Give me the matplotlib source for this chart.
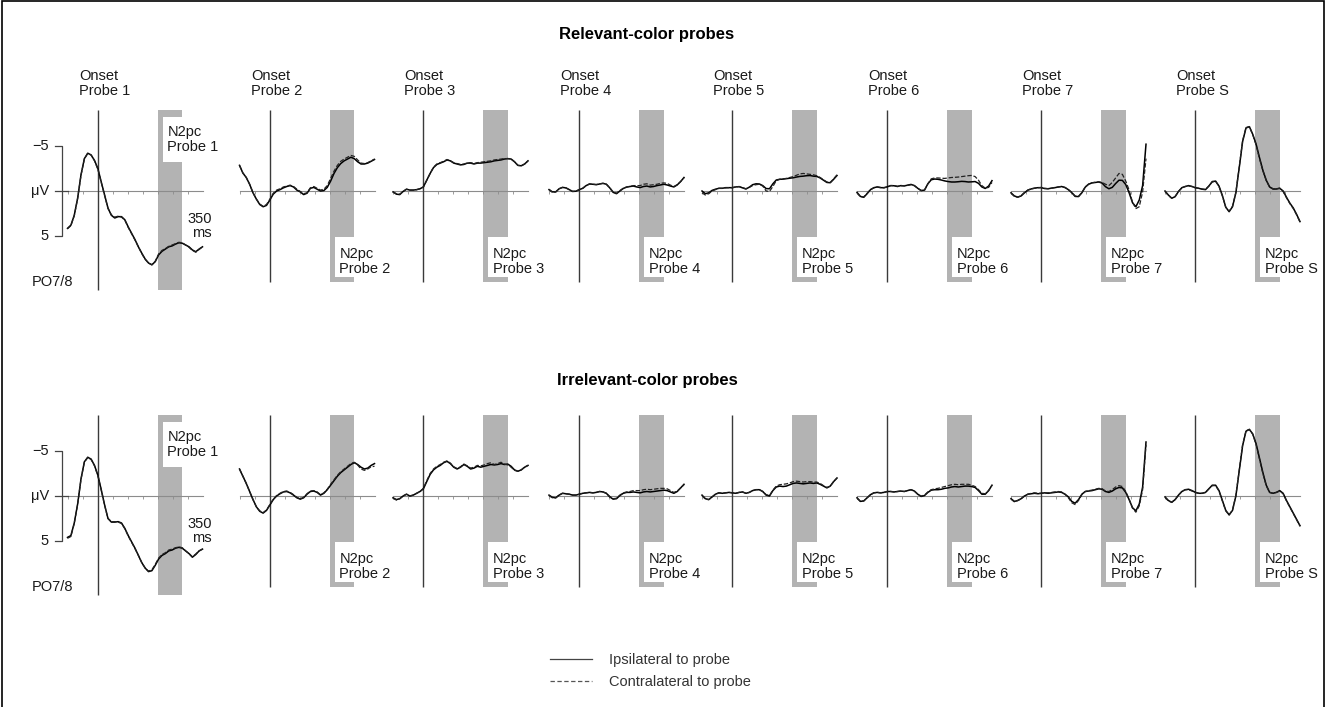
import numpy as np
import matplotlib.pyplot as plt
from matplotlib.patches import Rectangle
from matplotlib.lines import Line2D

plt.rcParams['font.family'] = ['Liberation Sans', 'DejaVu Sans']
plt.rcParams['font.size'] = 10.5

# time grid of the digitised waveforms (ms, 11.25 ms steps)
times = np.linspace(-100, 350, 41)
probes = ['1', '2', '3', '4', '5', '6', '7', 'S']
n2pc_window = [200, 283]
xticks_ms = [-100, -50, 0, 50, 100, 150, 200, 250, 300, 350]
yticks_uv = [-5, 0, 5]
ytick_labels = ['\u22125', 'μV', '5']
row_titles = ['Relevant-color probes', 'Irrelevant-color probes']
legend_labels = ['Ipsilateral to probe', 'Contralateral to probe']

# relevant-color probes, PO7/8 (μV, negative up)
ipsi_rel = [
    [4.15, 3.8, 2.7, 0.8, -1.8, -3.6, -4.2, -4.0, -3.4, -2.5, -1.0, 0.45, 1.9, 2.7, 3.0, 2.85, 2.85, 3.2, 4.0, 4.7, 5.4,
     6.2, 6.9, 7.55, 8.0, 8.2, 7.85, 7.1, 6.7, 6.45, 6.2, 6.1, 5.9, 5.75, 5.8, 6.0, 6.2, 6.55, 6.75, 6.45, 6.2],
    [-2.85, -2.0, -1.5, -0.75, 0.2, 0.9, 1.5, 1.75, 1.6, 1.0, 0.35, 0.0, -0.15, -0.35, -0.5, -0.6, -0.45, -0.1, 0.1, 0.4,
     0.25, -0.3, -0.4, -0.2, 0.0, -0.05, -0.4, -1.1, -1.95, -2.6, -3.05, -3.35, -3.55, -3.75, -3.6, -3.25, -3.0, -3.0,
     -3.1, -3.3, -3.5],
    [0.1, 0.35, 0.4, 0.05, -0.2, -0.1, -0.1, -0.15, -0.25, -0.45, -1.2, -1.95, -2.6, -2.95, -3.1, -3.25, -3.45, -3.35,
     -3.1, -3.0, -2.9, -2.95, -3.1, -3.1, -3.0, -3.1, -3.1, -3.15, -3.2, -3.25, -3.35, -3.4, -3.45, -3.55, -3.6, -3.55,
     -3.25, -2.85, -2.8, -3.0, -3.35],
    [-0.15, 0.1, 0.1, -0.25, -0.4, -0.35, -0.15, 0.05, 0.02, -0.15, -0.3, -0.6, -0.78, -0.75, -0.7, -0.78, -0.85, -0.75,
     -0.35, 0.15, 0.3, 0.0, -0.28, -0.43, -0.5, -0.55, -0.45, -0.38, -0.5, -0.55, -0.45, -0.5, -0.6, -0.67, -0.75, -0.67,
     -0.55, -0.45, -0.68, -1.05, -1.5],
    [0.0, 0.3, 0.2, -0.07, -0.2, -0.3, -0.3, -0.37, -0.37, -0.37, -0.45, -0.48, -0.35, -0.22, -0.42, -0.7, -0.8, -0.78,
     -0.6, -0.27, -0.25, -0.8, -1.22, -1.3, -1.32, -1.37, -1.42, -1.47, -1.55, -1.62, -1.65, -1.7, -1.72, -1.65, -1.62,
     -1.45, -1.2, -0.95, -0.92, -1.3, -1.72],
    [0.15, 0.6, 0.7, 0.3, -0.15, -0.37, -0.45, -0.37, -0.37, -0.47, -0.6, -0.58, -0.5, -0.6, -0.56, -0.65, -0.73, -0.6,
     -0.3, -0.05, -0.1, -0.8, -1.25, -1.33, -1.3, -1.22, -1.12, -1.05, -1.0, -1.0, -1.03, -1.07, -1.05, -1.0, -1.02,
     -1.05, -0.85, -0.45, -0.28, -0.55, -1.15],
    [0.2, 0.55, 0.68, 0.55, 0.2, -0.1, -0.23, -0.32, -0.37, -0.37, -0.27, -0.25, -0.32, -0.37, -0.44, -0.5, -0.38, -0.15,
     0.18, 0.6, 0.62, 0.2, -0.43, -0.75, -0.9, -0.95, -1.0, -0.88, -0.48, -0.25, -0.4, -0.83, -1.2, -1.18, -0.72, 0.2,
     1.3, 1.75, 1.0, -0.6, -5.2],
    [0.0, 0.45, 0.8, 0.63, 0.05, -0.37, -0.5, -0.6, -0.5, -0.37, -0.3, -0.2, -0.15, -0.55, -1.05, -1.1, -0.55, 0.5, 1.8,
     2.3, 1.75, 0.2, -2.6, -5.5, -7.0, -7.15, -6.3, -5.2, -3.7, -2.3, -1.2, -0.45, -0.22, -0.22, -0.3, 0.0, 0.7, 1.35,
     1.88, 2.6, 3.4],
]
contra_rel = [
    [4.2, 3.85, 2.75, 0.85, -1.75, -3.55, -4.2, -4.0, -3.35, -2.4, -0.95, 0.5, 1.95, 2.65, 2.9, 2.8, 2.9, 3.25, 4.05,
     4.75, 5.45, 6.2, 6.95, 7.6, 8.0, 8.2, 7.8, 7.0, 6.6, 6.4, 6.15, 6.0, 5.85, 5.7, 5.75, 6.0, 6.25, 6.6, 6.8, 6.5, 6.2],
    [-2.85, -2.0, -1.5, -0.75, 0.2, 0.9, 1.45, 1.7, 1.5, 0.9, 0.25, -0.1, -0.25, -0.45, -0.55, -0.65, -0.5, -0.2, 0.05,
     0.3, 0.2, -0.35, -0.5, -0.3, -0.1, -0.2, -0.6, -1.4, -2.2, -2.85, -3.3, -3.55, -3.75, -3.95, -3.85, -3.45, -3.1,
     -3.05, -3.15, -3.35, -3.55],
    [0.1, 0.3, 0.35, 0.05, -0.2, -0.1, -0.1, -0.15, -0.25, -0.45, -1.2, -1.95, -2.65, -3.0, -3.15, -3.3, -3.5, -3.35,
     -3.15, -3.05, -2.95, -3.0, -3.1, -3.15, -3.05, -3.15, -3.2, -3.25, -3.3, -3.35, -3.45, -3.5, -3.55, -3.6, -3.6,
     -3.55, -3.25, -2.85, -2.8, -3.0, -3.35],
    [-0.2, 0.15, 0.1, -0.25, -0.4, -0.35, -0.15, 0.05, 0.0, -0.15, -0.3, -0.6, -0.78, -0.75, -0.72, -0.8, -0.85, -0.75,
     -0.35, 0.1, 0.25, -0.05, -0.3, -0.45, -0.52, -0.6, -0.6, -0.6, -0.75, -0.8, -0.65, -0.7, -0.75, -0.85, -0.9, -0.85,
     -0.65, -0.5, -0.7, -1.05, -1.45],
    [0.2, 0.45, 0.3, 0.0, -0.15, -0.3, -0.3, -0.35, -0.37, -0.37, -0.45, -0.5, -0.38, -0.25, -0.4, -0.6, -0.7, -0.75,
     -0.55, 0.0, 0.05, -0.5, -1.15, -1.3, -1.35, -1.4, -1.5, -1.6, -1.75, -1.9, -1.95, -1.9, -1.85, -1.8, -1.7, -1.5,
     -1.25, -1.0, -0.95, -1.35, -1.8],
    [0.2, 0.65, 0.65, 0.25, -0.15, -0.35, -0.45, -0.4, -0.35, -0.45, -0.6, -0.6, -0.52, -0.58, -0.6, -0.62, -0.7, -0.6,
     -0.3, -0.05, -0.1, -0.8, -1.35, -1.45, -1.45, -1.42, -1.4, -1.45, -1.5, -1.52, -1.55, -1.6, -1.65, -1.7, -1.73,
     -1.6, -1.2, -0.6, -0.32, -0.4, -0.95],
    [0.25, 0.6, 0.7, 0.5, 0.15, -0.1, -0.25, -0.3, -0.35, -0.4, -0.3, -0.25, -0.3, -0.4, -0.45, -0.5, -0.4, -0.15, 0.15,
     0.55, 0.6, 0.15, -0.45, -0.78, -0.92, -0.97, -1.02, -0.95, -0.75, -0.6, -0.95, -1.45, -1.95, -1.85, -1.1, -0.1,
     1.25, 1.95, 1.75, 0.1, -3.6],
    [0.05, 0.5, 0.8, 0.6, 0.05, -0.35, -0.5, -0.55, -0.5, -0.35, -0.3, -0.22, -0.18, -0.55, -1.0, -1.08, -0.5, 0.55,
     1.8, 2.25, 1.7, 0.15, -2.7, -5.6, -7.05, -7.15, -6.25, -5.1, -3.6, -2.25, -1.15, -0.45, -0.25, -0.25, -0.32, 0.05,
     0.75, 1.4, 1.95, 2.65, 3.45],
]

# irrelevant-color probes, PO7/8
ipsi_irr = [
    [4.6, 4.4, 3.0, 0.9, -1.9, -3.8, -4.3, -4.1, -3.4, -2.3, -0.7, 1.0, 2.5, 2.9, 2.9, 2.85, 3.0, 3.6, 4.4, 5.1, 5.8,
     6.6, 7.4, 8.0, 8.4, 8.3, 7.7, 7.0, 6.6, 6.4, 6.1, 6.0, 5.8, 5.7, 5.8, 6.1, 6.4, 6.8, 6.5, 6.1, 5.9],
    [-3.0, -2.2, -1.4, -0.5, 0.4, 1.2, 1.7, 1.9, 1.6, 1.0, 0.4, 0.0, -0.25, -0.45, -0.5, -0.35, -0.1, 0.2, 0.35, 0.2,
     -0.2, -0.5, -0.55, -0.4, -0.1, -0.3, -0.7, -1.2, -1.7, -2.2, -2.6, -2.9, -3.2, -3.5, -3.7, -3.5, -3.2, -3.0, -3.1,
     -3.4, -3.6],
    [0.2, 0.4, 0.3, 0.0, -0.2, 0.0, -0.1, -0.3, -0.5, -0.8, -1.6, -2.4, -2.9, -3.2, -3.4, -3.7, -3.85, -3.6, -3.2, -3.0,
     -3.2, -3.5, -3.3, -3.0, -3.1, -3.3, -3.2, -3.3, -3.4, -3.5, -3.45, -3.5, -3.6, -3.5, -3.55, -3.3, -2.9, -2.75, -2.9,
     -3.2, -3.4],
    [-0.1, 0.15, 0.2, -0.1, -0.3, -0.25, -0.2, -0.1, -0.1, -0.2, -0.3, -0.35, -0.4, -0.35, -0.4, -0.5, -0.45, -0.3, 0.1,
     0.35, 0.3, -0.05, -0.3, -0.4, -0.4, -0.45, -0.4, -0.35, -0.45, -0.5, -0.45, -0.5, -0.55, -0.6, -0.65, -0.6, -0.45,
     -0.3, -0.5, -0.9, -1.3],
    [-0.1, 0.3, 0.4, 0.1, -0.2, -0.35, -0.3, -0.35, -0.4, -0.35, -0.3, -0.4, -0.45, -0.3, -0.4, -0.6, -0.7, -0.7, -0.5,
     -0.1, 0.0, -0.6, -1.0, -1.1, -1.05, -1.1, -1.25, -1.4, -1.45, -1.4, -1.35, -1.4, -1.45, -1.4, -1.45, -1.3, -1.1,
     -0.9, -1.1, -1.6, -2.0],
    [0.2, 0.6, 0.55, 0.2, -0.15, -0.35, -0.4, -0.35, -0.4, -0.5, -0.5, -0.45, -0.5, -0.55, -0.5, -0.6, -0.7, -0.55,
     -0.2, 0.05, -0.05, -0.4, -0.65, -0.7, -0.7, -0.75, -0.85, -0.9, -1.0, -1.05, -1.0, -1.05, -1.1, -1.1, -1.05, -0.95,
     -0.6, -0.2, -0.2, -0.6, -1.2],
    [0.3, 0.6, 0.5, 0.3, 0.0, -0.2, -0.25, -0.3, -0.25, -0.3, -0.35, -0.3, -0.35, -0.4, -0.45, -0.4, -0.2, 0.1, 0.6, 0.8,
     0.4, -0.2, -0.5, -0.55, -0.6, -0.7, -0.8, -0.75, -0.5, -0.4, -0.55, -0.8, -0.95, -0.9, -0.4, 0.4, 1.3, 1.65, 0.9,
     -1.0, -6.0],
    [0.1, 0.5, 0.7, 0.4, -0.1, -0.5, -0.7, -0.75, -0.6, -0.4, -0.3, -0.3, -0.4, -0.8, -1.2, -1.2, -0.6, 0.5, 1.6, 2.1,
     1.6, 0.0, -2.8, -5.6, -7.2, -7.4, -6.9, -5.8, -4.2, -2.6, -1.2, -0.4, -0.3, -0.4, -0.6, -0.3, 0.5, 1.2, 1.9, 2.6,
     3.3],
]
contra_irr = [
    [4.7, 4.5, 3.05, 0.95, -1.85, -3.75, -4.3, -4.05, -3.35, -2.25, -0.65, 1.05, 2.5, 2.85, 2.85, 2.9, 3.05, 3.65, 4.45,
     5.15, 5.85, 6.6, 7.4, 8.0, 8.35, 8.2, 7.6, 6.9, 6.5, 6.3, 6.0, 5.9, 5.75, 5.65, 5.75, 6.1, 6.4, 6.75, 6.45, 6.1, 5.9],
    [-3.0, -2.2, -1.4, -0.5, 0.4, 1.2, 1.65, 1.85, 1.55, 0.95, 0.35, -0.05, -0.3, -0.5, -0.55, -0.4, -0.15, 0.15, 0.3,
     0.15, -0.25, -0.55, -0.6, -0.45, -0.15, -0.35, -0.75, -1.3, -1.8, -2.3, -2.7, -3.0, -3.3, -3.6, -3.75, -3.45, -3.0,
     -2.85, -3.0, -3.25, -3.3],
    [0.25, 0.45, 0.3, 0.0, -0.2, 0.0, -0.1, -0.3, -0.5, -0.85, -1.7, -2.5, -3.0, -3.3, -3.5, -3.75, -3.9, -3.65, -3.25,
     -3.05, -3.25, -3.55, -3.35, -3.1, -3.2, -3.4, -3.35, -3.45, -3.6, -3.7, -3.5, -3.6, -3.75, -3.55, -3.45, -3.2,
     -2.85, -2.75, -2.9, -3.2, -3.4],
    [-0.05, 0.2, 0.2, -0.1, -0.3, -0.25, -0.2, -0.1, -0.1, -0.2, -0.3, -0.35, -0.4, -0.35, -0.4, -0.5, -0.45, -0.3, 0.05,
     0.3, 0.25, -0.1, -0.35, -0.45, -0.5, -0.6, -0.6, -0.6, -0.7, -0.75, -0.7, -0.75, -0.8, -0.85, -0.85, -0.8, -0.6,
     -0.4, -0.55, -0.9, -1.25],
    [-0.05, 0.35, 0.4, 0.1, -0.2, -0.35, -0.3, -0.35, -0.4, -0.35, -0.3, -0.4, -0.45, -0.3, -0.4, -0.6, -0.7, -0.7,
     -0.5, -0.15, -0.05, -0.65, -1.1, -1.25, -1.3, -1.35, -1.45, -1.6, -1.65, -1.6, -1.55, -1.6, -1.6, -1.55, -1.55, -1.4,
     -1.15, -0.95, -1.1, -1.6, -2.0],
    [0.25, 0.6, 0.55, 0.2, -0.15, -0.35, -0.4, -0.35, -0.4, -0.5, -0.5, -0.45, -0.5, -0.55, -0.5, -0.6, -0.7, -0.55,
     -0.2, 0.0, -0.1, -0.45, -0.7, -0.8, -0.85, -0.95, -1.05, -1.15, -1.25, -1.3, -1.25, -1.3, -1.3, -1.3, -1.2, -1.05,
     -0.7, -0.3, -0.25, -0.6, -1.2],
    [0.35, 0.65, 0.5, 0.3, 0.0, -0.2, -0.3, -0.35, -0.3, -0.3, -0.35, -0.35, -0.4, -0.45, -0.5, -0.45, -0.2, 0.2, 0.75,
     0.95, 0.5, -0.15, -0.5, -0.6, -0.65, -0.75, -0.85, -0.8, -0.55, -0.5, -0.7, -1.0, -1.15, -1.05, -0.5, 0.35, 1.35,
     1.8, 1.1, -0.7, -5.7],
    [0.15, 0.55, 0.7, 0.4, -0.1, -0.5, -0.7, -0.7, -0.55, -0.4, -0.3, -0.3, -0.4, -0.8, -1.15, -1.15, -0.55, 0.55, 1.65,
     2.1, 1.55, -0.05, -2.9, -5.7, -7.25, -7.4, -6.85, -5.7, -4.1, -2.5, -1.15, -0.4, -0.3, -0.4, -0.55, -0.25, 0.55,
     1.25, 1.95, 2.65, 3.35],
]

# layout in pixels of the 1325 x 707 figure
W, H = 1325, 707
onset_px = [97.5, 269.5, 423, 579, 732, 887, 1041, 1195]
row_axis_px = [191, 496]
row_title_px = [35, 381]
PX_MS, PX_UV = 0.3, 9.0
Y_TOP, Y_BOT = -10, 12
INK = '#1a1a1a'
AXIS_GREY = '#8c8c8c'
BAR_GREY = '#b3b3b3'

fig = plt.figure(figsize=(W / 100, H / 100), dpi=100)


def make_axes(x_px, y_px):
    left = (x_px - 100 * PX_MS) / W
    bottom = 1 - (y_px + Y_BOT * PX_UV) / H
    ax = fig.add_axes([left, bottom, 450 * PX_MS / W, (Y_BOT - Y_TOP) * PX_UV / H])
    ax.set_xlim(-100, 350)
    ax.set_ylim(Y_BOT, Y_TOP)  # negative up
    ax.axis('off')
    return ax


rows = [(ipsi_rel, contra_rel), (ipsi_irr, contra_irr)]
for r, (ipsi, contra) in enumerate(rows):
    fig.text(647 / W, 1 - row_title_px[r] / H, row_titles[r], ha='center', va='center',
             fontweight='bold', fontsize=12, color='black')
    for c, probe in enumerate(probes):
        ax = make_axes(onset_px[c], row_axis_px[r])
        first = c == 0
        top = -9.0
        low = 11.0 if first else 10.1

        # baseline with 50 ms ticks
        ax.plot([xticks_ms[0], xticks_ms[-1]], [0, 0], color=AXIS_GREY, lw=0.8, clip_on=False, zorder=2)
        ax.vlines(xticks_ms, 0, 0.35, color=AXIS_GREY, lw=0.6, zorder=2)

        # N2pc window and onset marker
        ax.fill_between(n2pc_window, top, low, color=BAR_GREY, lw=0, zorder=1)
        ax.vlines(0, top, low, color='#3a3a3a', lw=1.0, zorder=2)

        if first:
            box_y, text_y = (-8.2, -3.2), -5.7
        else:
            box_y, text_y = (5.1, 9.6), 7.85
        ax.add_patch(Rectangle((218, box_y[0]), n2pc_window[1] - 218 + 0.5, box_y[1] - box_y[0],
                               facecolor='white', edgecolor='none', zorder=2, clip_on=False))
        ax.text(233, text_y, f'N2pc\nProbe {probe}', ha='left', va='center', linespacing=1.05,
                color=INK, zorder=3, clip_on=False)

        # waveforms
        ax.plot(times, ipsi[c], color='black', lw=1.1, zorder=4, clip_on=False)
        ax.plot(times, contra[c], color='#222222', lw=0.9, dashes=(3.5, 1.5), zorder=5, clip_on=False)

        if r == 0:
            ax.text(-62, -11.9, f'Onset\nProbe {probe}', ha='left', va='center', linespacing=1.1,
                    color=INK, clip_on=False)

        if first:
            ax.plot([-142, -117, -117, -142], [yticks_uv[0], yticks_uv[0], yticks_uv[-1], yticks_uv[-1]],
                    color='#444444', lw=0.9, clip_on=False)
            ax.plot([-142, -100], [0, 0], color='#444444', lw=0.9, clip_on=False)
            for v, lab in zip(yticks_uv, ytick_labels):
                ax.text(-162, v, lab, ha='right', va='center', color=INK, clip_on=False)
            ax.text(382, 3.9, f'{xticks_ms[-1]}\nms', ha='right', va='center', multialignment='right',
                    linespacing=1.05, color=INK, clip_on=False)
            ax.text(-220, 10.1, 'PO7/8', ha='left', va='center', color=INK, clip_on=False)

handles = [Line2D([], [], color='#444444', lw=0.9),
           Line2D([], [], color='#555555', lw=0.9, dashes=(3.5, 2))]
leg = fig.legend(handles, legend_labels, loc='center left', bbox_to_anchor=(550 / W, 1 - 671 / H),
                 frameon=False, handlelength=2.9, handletextpad=1.15, labelspacing=0.55,
                 borderpad=0, borderaxespad=0, fontsize=10.5)
for t in leg.get_texts():
    t.set_color('#333333')

# frame around the figure (open at the bottom)
fig.add_artist(Rectangle((1.5 / W, -0.1), 1 - 3 / W, 1.1 - 1.5 / H, transform=fig.transFigure,
                         fill=False, edgecolor='black', lw=1.2))

fig.savefig('out.png', dpi=100)
